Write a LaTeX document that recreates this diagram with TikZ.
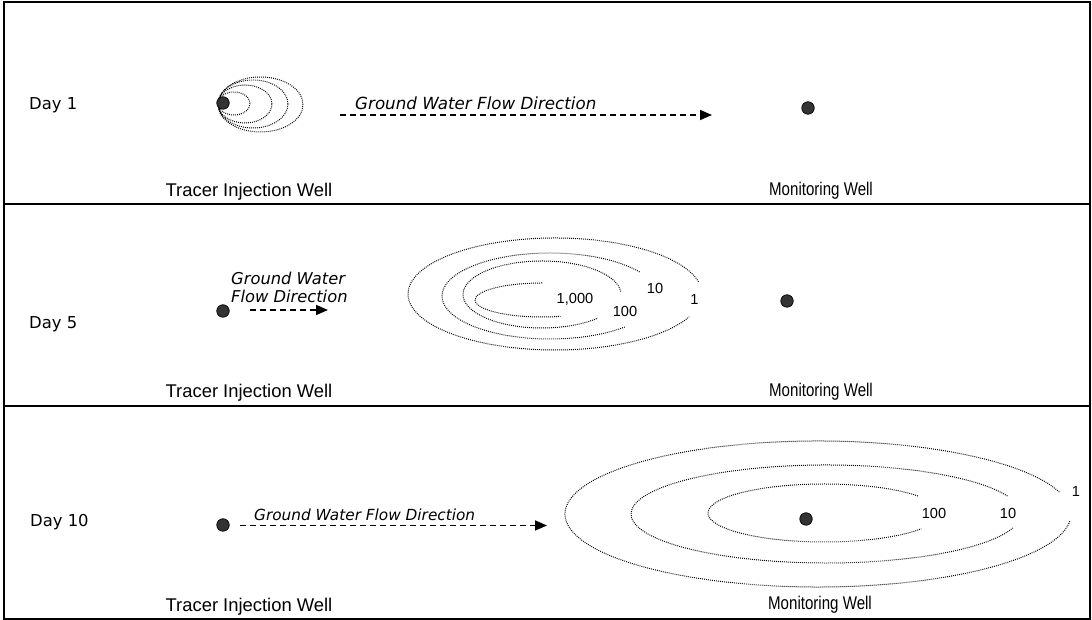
\documentclass[tikz,border=0pt]{standalone}
\usepackage{fontspec}
\setmainfont{Liberation Sans}
\newfontfamily\verd{DejaVu Sans}
\newfontfamily\narrowfnt[FakeStretch=0.82]{Liberation Sans}
\usetikzlibrary{arrows.meta}
\begin{document}
\begin{tikzpicture}[x=1pt,y=1pt,
 daylbl/.style={anchor=base west, inner sep=0, font=\verd\fontsize{16.4}{18}\selectfont},
 welllbl/.style={anchor=base, inner sep=0, font=\fontsize{18.4}{20}\selectfont},
 monlbl/.style={anchor=base, inner sep=0, font=\narrowfnt\fontsize{18.4}{20}\selectfont},
 flowlbl/.style={inner sep=0, font=\verd\itshape\fontsize{16.7}{18}\selectfont},
 conc/.style={inner sep=0, font=\fontsize{14.6}{16}\selectfont},
 well/.style={circle, draw=black, fill=black!80, minimum size=12.5pt, inner sep=0, line width=0.7pt},
 flow/.style={line width=1.6pt, dash pattern=on 5.5pt off 4.5pt, -{Triangle[length=12pt,width=10pt]}},
 plume/.style={line width=1pt, dash pattern=on 0.9pt off 1.1pt, black},
 frame/.style={line width=1.4pt}]
\useasboundingbox (0,0) rectangle (1092,620);
% frame and panel separators
\draw[frame] (4,1) rectangle (1090,618);
\draw[frame] (4,416) -- (1090,416);
\draw[frame] (4,214) -- (1090,214);

% ---------------- Day 1 ----------------
\node[daylbl] (d1) at (29,510) {Day 1};
\draw[plume] (234,516.5) ellipse [x radius=16, y radius=11.5];
\draw[plume] (245,516) ellipse [x radius=27, y radius=19];
\draw[plume] (253,516) ellipse [x radius=35, y radius=24];
\draw[plume] (260.5,515.5) ellipse [x radius=42.5, y radius=27.5];
\node[well] (inj1) at (223,517) {};
\node[well] (mon1) at (808,512) {};
\coordinate (f1s) at (340,505);
\coordinate (f1e) at (712,505);
\draw[flow] (f1s) -- (f1e);
\node[flowlbl, anchor=base west] (t1) at (355,510) {Ground Water Flow Direction};
\node[welllbl] (ti1) at (249,423) {Tracer Injection Well};
\node[monlbl] (mw1) at (821,424) {Monitoring Well};

% ---------------- Day 5 ----------------
\node[daylbl] (d5) at (29,291) {Day 5};
\node[well] (inj5) at (223,309) {};
\node[flowlbl, anchor=north west, align=left, font=\verd\itshape\fontsize{16.3}{18}\selectfont] (t5) at (231,348) {Ground Water\\Flow Direction};
\coordinate (f5s) at (250,310);
\coordinate (f5e) at (328,310);
\draw[flow] (f5s) -- (f5e);
\draw[plume] ([shift={(90:67 and 17)}]542,320) arc [start angle=90, end angle=286, x radius=67, y radius=17];
\draw[plume] ([shift={(5:79 and 33.5)}]542,325.5) arc [start angle=5, end angle=315, x radius=79, y radius=33.5];
\draw[plume] ([shift={(34:108 and 43)}]550,324) arc [start angle=34, end angle=314, x radius=108, y radius=43];
\draw[plume] ([shift={(12.5:147 and 56)}]555,326) arc [start angle=12.5, end angle=336, x radius=147, y radius=56];
\node[conc] (c5a) at (575,321) {1,000};
\node[conc] (c5b) at (625,308.5) {100};
\node[conc] (c5c) at (655,332) {10};
\node[conc] (c5d) at (694.5,320.5) {1};
\node[well] (mon5) at (787,319) {};
\node[welllbl] (ti5) at (249,222) {Tracer Injection Well};
\node[monlbl] (mw5) at (821,223) {Monitoring Well};

% ---------------- Day 10 ----------------
\node[daylbl] (d10) at (30,93) {Day 10};
\node[well] (inj10) at (223,95) {};
\coordinate (f10s) at (240,94.5);
\coordinate (f10e) at (547,94.5);
\draw[flow] (f10s) -- (f10e);
\node[flowlbl, anchor=base west, font=\verd\itshape\fontsize{15.3}{17}\selectfont] (t10) at (254,99.5) {Ground Water Flow Direction};
\draw[plume] ([shift={(36:116 and 29)}]824,107) arc [start angle=36, end angle=327, x radius=116, y radius=29];
\draw[plume] ([shift={(21.5:195 and 49)}]826,106) arc [start angle=21.5, end angle=343.4, x radius=195, y radius=49];
\draw[plume] ([shift={(17.5:253 and 73)}]818,106) arc [start angle=17.5, end angle=355, x radius=253, y radius=73];
\node[conc] (c10a) at (934,106.5) {100};
\node[conc] (c10b) at (1008,106.5) {10};
\node[conc] (c10c) at (1076,129) {1};
\node[well] (mon10) at (806,101) {};
\node[welllbl] (ti10) at (249,8) {Tracer Injection Well};
\node[monlbl] (mw10) at (820,10) {Monitoring Well};
\end{tikzpicture}
\end{document}
